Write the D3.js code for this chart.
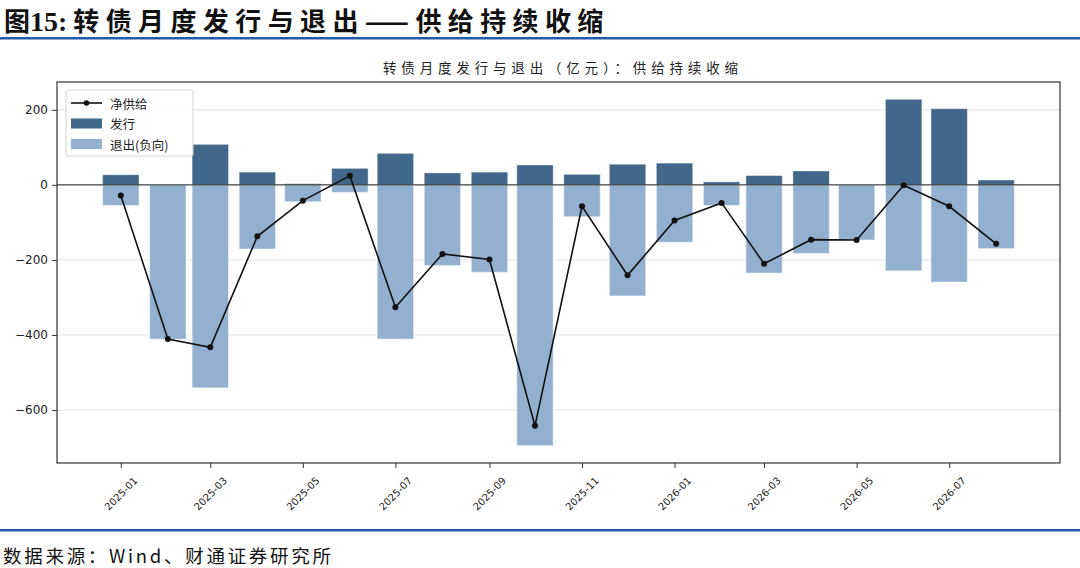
<!DOCTYPE html>
<html>
<head>
<meta charset="utf-8">
<script src="https://cdn.jsdelivr.net/npm/d3@7"></script>
<style>
  body { margin: 0; background: #fff; }
  svg { display: block; }
</style>
</head>
<body>
<script>
// monthly data, 亿元
const months = ["2025-01","2025-02","2025-03","2025-04","2025-05","2025-06","2025-07","2025-08","2025-09","2025-10",
                "2025-11","2025-12","2026-01","2026-02","2026-03","2026-04","2026-05","2026-06","2026-07","2026-08"];
const issue = [27, 0, 108, 34, 3, 44, 84, 32, 34, 53, 28, 55, 58, 8, 25, 37, 0, 228, 203, 13];
const exitVals = [-55, -411, -541, -171, -45, -20, -411, -215, -233, -695, -85, -296, -153, -55, -235, -183, -147, -229, -259, -170];
const net = [-28, -411, -433, -137, -42, 24, -326, -184, -199, -642, -57, -241, -95, -48, -210, -146, -147, -1, -57, -157];
const yTicks = [200, 0, -200, -400, -600];
const xTickMonths = ["2025-01","2025-03","2025-05","2025-07","2025-09","2025-11","2026-01","2026-03","2026-05","2026-07"];

const W = 1080, H = 568;
const plot = {left: 57, right: 1060, top: 82, bottom: 463};
const darkBlue = "#41678b", lightBlue = "#93b0d0", ruleBlue = "#1f5ba8";

const parse = d3.timeParse("%Y-%m");
const dates = months.map(parse);
const halfBar = 12 * 864e5;

const svg = d3.select("body").append("svg")
    .attr("width", W)
    .attr("height", H);

// headline
const head = svg.append("text")
    .attr("x", 4).attr("y", 31)
    .style("font-family", "'Noto Sans CJK SC', sans-serif")
    .style("font-weight", "bold")
    .style("font-size", "26px")
    .attr("fill", "#111");
head.append("tspan").text("图");
head.append("tspan").style("font-family", "'Liberation Serif', serif").style("font-size", "28px").text("15:");
head.append("tspan").attr("dx", 6).attr("textLength", 530).attr("lengthAdjust", "spacing")
    .text("转债月度发行与退出——供给持续收缩");

svg.append("rect").attr("x", 0).attr("y", 37).attr("width", W).attr("height", 2.5).attr("fill", ruleBlue);
svg.append("rect").attr("x", 0).attr("y", 529).attr("width", W).attr("height", 2.5).attr("fill", ruleBlue);

svg.append("text")
    .attr("x", 3).attr("y", 563)
    .attr("textLength", 328).attr("lengthAdjust", "spacing")
    .style("font-family", "'Noto Sans CJK SC', serif")
    .style("font-size", "18.5px")
    .attr("fill", "#111")
    .text("数据来源：Wind、财通证券研究所");

// scales, matplotlib style 5% margins
const t0 = +dates[0] - halfBar, t1 = +dates[dates.length - 1] + halfBar;
const xPad = (t1 - t0) * 0.05;
const x = d3.scaleTime()
    .domain([new Date(t0 - xPad), new Date(t1 + xPad)])
    .range([plot.left, plot.right]);

const yMin = d3.min(exitVals), yMax = d3.max(issue);
const yPad = (yMax - yMin) * 0.05;
const y = d3.scaleLinear()
    .domain([yMin - yPad, yMax + yPad])
    .range([plot.bottom, plot.top]);

// chart title
svg.append("text")
    .attr("x", 383).attr("y", 73)
    .attr("textLength", 355).attr("lengthAdjust", "spacing")
    .style("font-family", "'Noto Sans CJK SC', sans-serif")
    .style("font-size", "13.5px")
    .attr("fill", "#222")
    .text("转债月度发行与退出（亿元）：供给持续收缩");

// grid
svg.append("g").selectAll("line")
    .data(yTicks)
    .enter().append("line")
    .attr("x1", plot.left).attr("x2", plot.right)
    .attr("y1", d => y(d)).attr("y2", d => y(d))
    .attr("stroke", "#e3e3e3").attr("stroke-width", 1);

// bars
const bars = svg.append("g");
bars.selectAll(".exit")
    .data(exitVals)
    .enter().append("rect")
    .attr("class", "exit")
    .attr("x", (d, i) => x(new Date(+dates[i] - halfBar)))
    .attr("width", (d, i) => x(new Date(+dates[i] + halfBar)) - x(new Date(+dates[i] - halfBar)))
    .attr("y", y(0))
    .attr("height", d => y(d) - y(0))
    .attr("fill", lightBlue)
    .attr("stroke", "#fff").attr("stroke-opacity", 0.5).attr("stroke-width", 1);

bars.selectAll(".issue")
    .data(issue)
    .enter().append("rect")
    .attr("class", "issue")
    .attr("x", (d, i) => x(new Date(+dates[i] - halfBar)))
    .attr("width", (d, i) => x(new Date(+dates[i] + halfBar)) - x(new Date(+dates[i] - halfBar)))
    .attr("y", d => y(d))
    .attr("height", d => y(0) - y(d))
    .attr("fill", darkBlue)
    .attr("stroke", "#fff").attr("stroke-opacity", 0.4).attr("stroke-width", d => d > 0 ? 1 : 0);

// zero line
svg.append("line")
    .attr("x1", plot.left).attr("x2", plot.right)
    .attr("y1", y(0)).attr("y2", y(0))
    .attr("stroke", "#222").attr("stroke-width", 1);

// net supply line
const line = d3.line()
    .x((d, i) => x(dates[i]))
    .y(d => y(d));

svg.append("path")
    .datum(net)
    .attr("d", line)
    .attr("fill", "none")
    .attr("stroke", "#111")
    .attr("stroke-width", 1.6);

svg.append("g").selectAll("circle")
    .data(net)
    .enter().append("circle")
    .attr("cx", (d, i) => x(dates[i]))
    .attr("cy", d => y(d))
    .attr("r", 3)
    .attr("fill", "#111");

// frame
svg.append("rect")
    .attr("x", plot.left).attr("y", plot.top)
    .attr("width", plot.right - plot.left).attr("height", plot.bottom - plot.top)
    .attr("fill", "none").attr("stroke", "#333").attr("stroke-width", 1.2);

// y axis
const yAxis = d3.axisLeft(y).tickValues(yTicks).tickSize(5).tickPadding(4).tickFormat(d3.format("d"));
const gy = svg.append("g").attr("transform", `translate(${plot.left},0)`).call(yAxis);
gy.select(".domain").remove();
gy.selectAll("line").attr("stroke", "#333");
gy.selectAll("text")
    .style("font-family", "'DejaVu Sans', sans-serif")
    .style("font-size", "12px")
    .attr("fill", "#222")
    .text(d => d < 0 ? "\u2212" + Math.abs(d) : d);

// x axis
const xAxis = d3.axisBottom(x).tickValues(xTickMonths.map(parse)).tickSize(5).tickFormat(d3.timeFormat("%Y-%m"));
const gx = svg.append("g").attr("transform", `translate(0,${plot.bottom})`).call(xAxis);
gx.select(".domain").remove();
gx.selectAll("line").attr("stroke", "#333");
gx.selectAll("text")
    .style("font-family", "'DejaVu Sans', sans-serif")
    .style("font-size", "10px")
    .attr("fill", "#222")
    .attr("text-anchor", "middle")
    .attr("dy", null)
    .attr("y", 31)
    .attr("transform", "rotate(-45, 0, 31)")
    .attr("dominant-baseline", "middle");

// legend
const legend = svg.append("g").attr("transform", "translate(66,90)");
legend.append("rect")
    .attr("width", 127).attr("height", 66).attr("rx", 2)
    .attr("fill", "#fff").attr("fill-opacity", 0.85)
    .attr("stroke", "#d6d6d6");

const legendItems = [
    {label: "净供给", type: "line"},
    {label: "发行", type: "bar", color: darkBlue},
    {label: "退出(负向)", type: "bar", color: lightBlue}
];
const li = legend.selectAll(".legends")
    .data(legendItems)
    .enter().append("g")
    .attr("class", "legends")
    .attr("transform", (d, i) => `translate(0, ${13 + i * 20.5})`);

li.filter(d => d.type === "line").append("line")
    .attr("x1", 5).attr("x2", 36).attr("y1", 0).attr("y2", 0)
    .attr("stroke", "#111").attr("stroke-width", 1.6);
li.filter(d => d.type === "line").append("circle")
    .attr("cx", 20.5).attr("cy", 0).attr("r", 2.8).attr("fill", "#111");
li.filter(d => d.type === "bar").append("rect")
    .attr("x", 5).attr("y", -5).attr("width", 31).attr("height", 10)
    .attr("fill", d => d.color);

li.append("text")
    .attr("x", 44).attr("y", 0)
    .attr("dominant-baseline", "central")
    .style("font-family", "'Noto Sans CJK SC', sans-serif")
    .style("font-size", "12.5px")
    .attr("fill", "#222")
    .text(d => d.label);
</script>
</body>
</html>
